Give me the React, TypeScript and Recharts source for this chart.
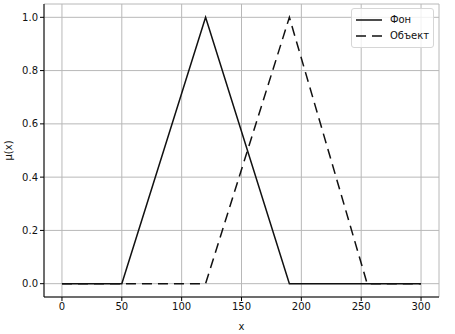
import { LineChart, Line, XAxis, YAxis, CartesianGrid, Label } from "recharts";

const xs = [0, 50, 120, 190, 255, 300];
const fon = [0, 0, 1, 0, 0, 0];
const obj = [0, 0, 0, 1, 0, 0];
const xTicks = [0, 50, 100, 150, 200, 250, 300];
const yTicks = [0, 0.2, 0.4, 0.6, 0.8, 1.0];

const data = xs.map((x, i) => ({ x, fon: fon[i], obj: obj[i] }));

const font = "DejaVu Sans, sans-serif";

function LegendBox() {
  return (
    <div
      style={{
        position: "absolute",
        top: 8,
        right: 21,
        border: "1px solid #d6d6d6",
        borderRadius: 3,
        background: "rgba(255,255,255,0.8)",
        padding: "3px 4px 3px 4px",
        fontFamily: font,
        fontSize: 10,
        color: "#111",
        lineHeight: "16px",
      }}
    >
      <div style={{ display: "flex", alignItems: "center" }}>
        <svg width={26} height={8} style={{ marginRight: 8 }}>
          <line x1={0} y1={4} x2={26} y2={4} stroke="#111" strokeWidth={1.5} />
        </svg>
        Фон
      </div>
      <div style={{ display: "flex", alignItems: "center" }}>
        <svg width={26} height={8} style={{ marginRight: 8 }}>
          <line x1={0} y1={4} x2={26} y2={4} stroke="#111" strokeWidth={1.5} strokeDasharray="10 6" />
        </svg>
        Объект
      </div>
    </div>
  );
}

export default function App() {
  return (
    <div style={{ position: "absolute", left: 0, top: 0, width: 455, height: 334, background: "#fff" }}>
      <LineChart width={455} height={334} data={data} margin={{ top: 4, right: 16, left: 0, bottom: 0 }}>
        <CartesianGrid stroke="#b8b8b8" strokeWidth={1} />
        <XAxis
          dataKey="x"
          type="number"
          domain={[-15, 315]}
          ticks={xTicks}
          height={37}
          stroke="#000"
          tickSize={4}
          tick={{ fontSize: 10, fontFamily: font, fill: "#111" }}
          tickLine={{ stroke: "#000" }}
          allowDataOverflow
        >
          <Label value="x" position="insideBottom" offset={4} style={{ fontSize: 10, fontFamily: font, fill: "#111" }} />
        </XAxis>
        <XAxis xAxisId="top" orientation="top" type="number" domain={[-15, 315]} height={0} tick={false} tickLine={false} stroke="#000" />
        <YAxis
          type="number"
          domain={[-0.05, 1.05]}
          ticks={yTicks}
          width={44}
          stroke="#000"
          tickSize={4}
          tickFormatter={(v: number) => v.toFixed(1)}
          tick={{ fontSize: 10, fontFamily: font, fill: "#111" }}
          allowDataOverflow
        >
          <Label value="μ(x)" angle={-90} position="insideLeft" offset={8} style={{ fontSize: 10, fontFamily: font, fill: "#111", textAnchor: "middle" }} />
        </YAxis>
        <YAxis yAxisId="right" orientation="right" width={0} tick={false} tickLine={false} stroke="#000" />
        <Line type="linear" dataKey="fon" stroke="#111" strokeWidth={1.5} dot={false} isAnimationActive={false} />
        <Line type="linear" dataKey="obj" stroke="#111" strokeWidth={1.5} strokeDasharray="10 6" dot={false} isAnimationActive={false} />
      </LineChart>
      <LegendBox />
    </div>
  );
}
